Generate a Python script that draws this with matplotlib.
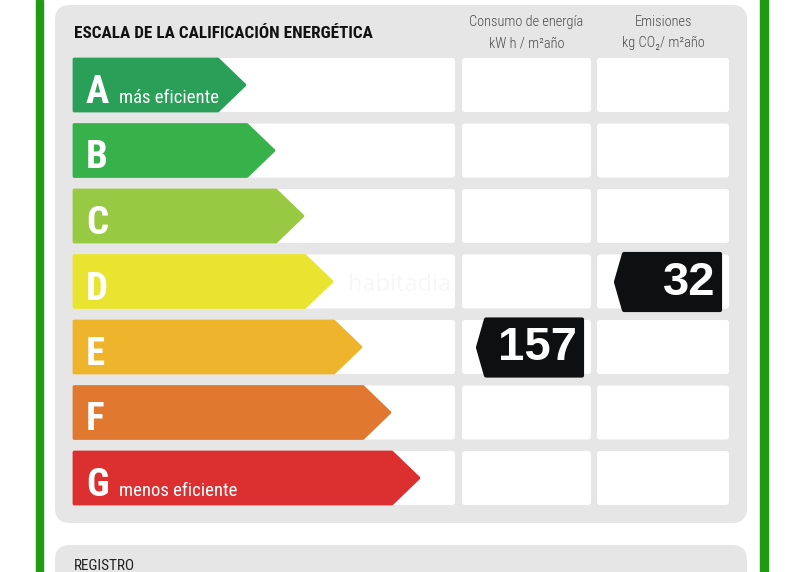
import matplotlib
matplotlib.use('Agg')
import matplotlib.pyplot as plt
from matplotlib.patches import FancyBboxPatch, Polygon, Rectangle

# data
classes = ['A', 'B', 'C', 'D', 'E', 'F', 'G']
class_colors = ['#2a9f57', '#37b24b', '#98c943', '#e8e430', '#eeb42c', '#e0782f', '#dc2f30']
class_notes = {'A': 'más eficiente', 'G': 'menos eficiente'}
column_head1 = ['Consumo de energía', 'Emisiones']
column_head2 = ['kW h / m²año', 'kg CO₂/ m²año']
values = [157, 32]
value_classes = ['E', 'D']

NARROW = ['Roboto Condensed', 'DejaVu Sans']
BOLD = ['Liberation Sans', 'DejaVu Sans']

fig = plt.figure(figsize=(8, 5.72), dpi=100)
ax = fig.add_axes([0, 0, 1, 1])
ax.set_xlim(0, 800)
ax.set_ylim(572, 0)
ax.axis('off')

# green side bars
ax.add_patch(Rectangle((36, 0), 7, 572, color='#1f9a12', zorder=1))
ax.add_patch(Rectangle((760, 0), 8, 572, color='#1f9a12', zorder=1))

# grey panels
ax.add_patch(FancyBboxPatch((70, 20), 662, 488, boxstyle='round,pad=15,rounding_size=15',
                            fc='#e6e6e6', ec='none', zorder=2))
ax.add_patch(FancyBboxPatch((70, 560), 662, 40, boxstyle='round,pad=15,rounding_size=15',
                            fc='#e6e6e6', ec='none', zorder=2))
ax.text(74, 566, 'REGISTRO', family=NARROW, fontsize=11, color='#222', va='center', zorder=5)

ax.text(74, 34, 'ESCALA DE LA CALIFICACIÓN ENERGÉTICA', family=NARROW, fontweight='heavy',
        fontsize=12.3, color='#111', va='center', zorder=5)

cols = [(73, 455), (462, 591), (597, 729)]
for i, (h1, h2) in enumerate(zip(column_head1, column_head2)):
    xc = (cols[i + 1][0] + cols[i + 1][1]) / 2
    ax.text(xc, 22, h1, family=NARROW, fontweight='light', fontsize=10.4, color='#4a4a4a',
            ha='center', va='center', zorder=5)
    ax.text(xc, 43, h2, family=NARROW, fontweight='light', fontsize=10.4, color='#4a4a4a',
            ha='center', va='center', zorder=5)

top0, pitch, rh = 58, 65.5, 54
for r, (cls, col) in enumerate(zip(classes, class_colors)):
    y0 = top0 + r * pitch
    for (xa, xb) in cols:
        ax.add_patch(FancyBboxPatch((xa + 2, y0 + 2), xb - xa - 4, rh - 4,
                                    boxstyle='round,pad=2,rounding_size=3',
                                    fc='white', ec='none', zorder=3))
    tip = 245 + 29 * r
    body = tip - 27
    pts = [(74, y0 + 1), (body, y0 + 1), (tip, y0 + rh / 2), (body, y0 + rh - 1), (74, y0 + rh - 1)]
    ax.add_patch(Polygon(pts, closed=True, fc=col, ec=col, lw=2, joinstyle='round', zorder=4))
    ax.text(86, y0 + 45, cls, family=NARROW, fontweight='bold', fontsize=28,
            color='white', va='baseline', zorder=5)
    if cls in class_notes:
        ax.text(119, y0 + 45, class_notes[cls], family=NARROW, fontsize=13.5,
                color='white', va='baseline', zorder=5)

# watermark
ax.text(400, 285, 'habitadia', family=['Open Sans', 'DejaVu Sans'], fontsize=17,
        color='#f3f3f3', alpha=0.6, ha='center', va='center', zorder=6)

# value badges
for i, (val, cls) in enumerate(zip(values, value_classes)):
    r = classes.index(cls)
    y0 = top0 + r * pitch
    xb = cols[i + 1][1] - 9
    xa = xb - 104
    yt, yb = y0 - 0.5, y0 + rh + 1.5
    pts = [(xa + 8, yt), (xb, yt), (xb, yb), (xa + 8, yb), (xa, (yt + yb) / 2)]
    ax.add_patch(Polygon(pts, closed=True, fc='#0e0f10', ec='#0e0f10', lw=3,
                         joinstyle='round', zorder=7))
    ax.text(xb - 5, (yt + yb) / 2 + 1, str(val), family=BOLD, fontweight='bold',
            fontsize=34, color='white', ha='right', va='center', zorder=8)

fig.savefig('out.png', dpi=100, facecolor='white')
